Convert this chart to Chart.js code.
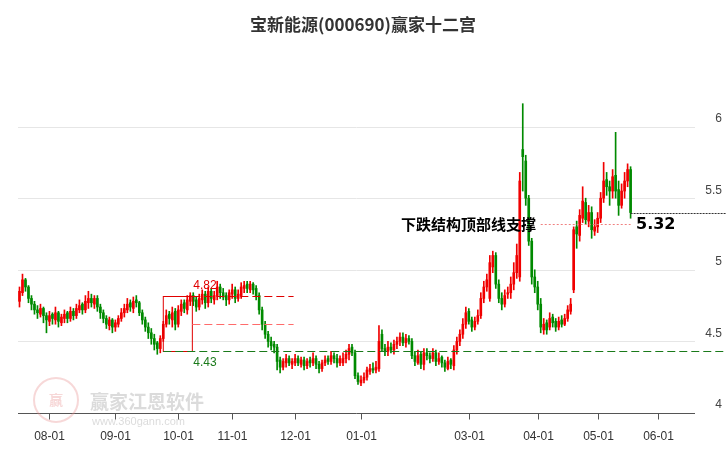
<!DOCTYPE html>
<html><head><meta charset="utf-8">
<script src="https://cdn.jsdelivr.net/npm/chart.js@4/dist/chart.umd.min.js"></script>
<style>html,body{margin:0;padding:0;background:#fff}#w{width:726px;height:450px}</style>
</head><body><div id="w"><canvas id="c"></canvas></div>
<script>
const dateTicks=[10,32,53,71,92,114,150,173,193,213];
const dateLabels=["08-01","09-01","10-01","11-01","12-01","01-01","03-01","04-01","05-01","06-01"];
const yTicks=[4,4.5,5,5.5,6];
const yTickLabels=["4","4.5","5","5.5","6"];
const closes=[4.85,4.93,4.88,4.80,4.76,4.72,4.70,4.73,4.68,4.65,
4.68,4.66,4.70,4.64,4.67,4.69,4.66,4.71,4.68,4.73,4.75,4.72,4.78,4.80,
4.77,4.80,4.74,4.70,4.66,4.62,4.65,4.60,4.63,4.66,
4.70,4.73,4.76,4.74,4.78,4.77,
4.70,4.65,4.60,4.56,4.52,4.48,4.45,
4.52,4.62,4.68,4.66,4.70,4.62,4.72,4.76,4.73,4.79,4.82,
4.78,4.74,4.80,4.83,4.77,4.85,4.80,4.82,4.88,4.84,4.81,4.79,4.84,
4.86,4.80,4.83,4.88,4.89,4.87,4.90,4.86,4.82,
4.72,4.62,4.55,4.50,4.47,4.46,
4.36,4.32,4.36,4.38,4.35,
4.36,4.38,4.35,4.37,4.33,4.36,4.35,4.38,4.34,4.31,4.35,4.37,4.36,4.40,4.38,4.35,4.38,
4.38,4.41,4.45,4.42,4.26,4.22,4.23,4.25,4.30,4.31,4.30,4.32,4.50,4.45,4.43,4.46,4.44,4.48,4.50,4.53,4.49,4.52,4.50,4.40,4.36,4.40,4.34,4.42,4.40,4.38,4.42,4.36,
4.38,4.35,4.32,4.36,4.34,4.44,4.50,4.55,4.62,4.70,4.64,4.60,4.64,4.68,4.80,4.88,4.93,5.05,5.10,4.90,4.80,4.76,4.82,4.84,4.90,4.98,5.10,5.62,5.79,5.50,5.20,4.95,4.88,4.76,4.60,
4.62,4.58,4.66,4.63,4.60,4.64,4.62,4.66,4.72,
4.76,
5.28,5.25,5.38,5.48,5.35,5.40,5.28,5.30,5.36,5.50,5.62,5.58,5.55,5.65,5.55,5.45,5.55,5.62,5.70,5.40];
const opens=[4.78,4.84,4.93,4.88,4.80,4.76,4.72,4.69,4.73,4.68,
4.64,4.69,4.65,4.70,4.63,4.66,4.70,4.66,4.71,4.68,4.72,4.76,4.72,4.77,
4.80,4.76,4.80,4.74,4.70,4.66,4.61,4.65,4.60,4.62,
4.66,4.70,4.72,4.77,4.73,4.79,
4.77,4.70,4.65,4.60,4.56,4.52,4.49,
4.45,4.52,4.62,4.69,4.65,4.71,4.62,4.71,4.77,4.72,4.78,
4.82,4.79,4.74,4.79,4.83,4.77,4.85,4.79,4.82,4.88,4.84,4.82,4.79,
4.83,4.86,4.80,4.82,4.87,4.90,4.86,4.90,4.87,
4.82,4.72,4.62,4.55,4.50,4.48,
4.46,4.37,4.32,4.35,4.38,
4.34,4.35,4.38,4.34,4.37,4.33,4.37,4.35,4.38,4.34,4.31,4.35,4.38,4.36,4.40,4.38,4.35,
4.35,4.38,4.41,4.46,4.42,4.26,4.21,4.23,4.25,4.29,4.31,4.30,4.31,4.55,4.45,4.43,4.46,4.44,4.48,4.50,4.53,4.49,4.52,4.50,4.40,4.35,4.41,4.34,4.42,4.40,4.38,4.42,
4.36,4.39,4.35,4.31,4.37,4.33,4.44,4.50,4.55,4.62,4.71,4.65,4.60,4.64,4.68,4.80,4.88,4.80,5.02,5.10,4.90,4.80,4.76,4.83,4.84,4.90,4.98,4.95,5.84,5.76,5.50,5.20,4.95,4.88,4.76,
4.58,4.63,4.60,4.67,4.64,4.60,4.65,4.62,4.66,
4.71,
4.86,5.30,5.24,5.36,5.47,5.34,5.40,5.27,5.30,5.36,5.50,5.63,5.58,5.55,5.66,5.56,5.45,5.55,5.62,5.70];
const highs=[4.88,4.97,4.94,4.89,4.82,4.78,4.75,4.76,4.74,4.70,
4.71,4.70,4.74,4.71,4.69,4.72,4.71,4.74,4.73,4.76,4.79,4.77,4.82,4.85,
4.83,4.82,4.82,4.76,4.72,4.68,4.67,4.66,4.65,4.68,
4.73,4.76,4.80,4.79,4.81,4.82,
4.78,4.72,4.67,4.63,4.59,4.55,4.50,
4.54,4.64,4.72,4.71,4.74,4.73,4.75,4.79,4.79,4.82,4.84,
4.84,4.81,4.83,4.86,4.85,4.88,4.87,4.85,4.92,4.90,4.87,4.84,4.86,
4.90,4.88,4.86,4.91,4.92,4.92,4.92,4.91,4.89,
4.84,4.74,4.64,4.57,4.53,4.50,
4.48,4.39,4.38,4.41,4.40,
4.38,4.41,4.40,4.39,4.39,4.38,4.39,4.42,4.40,4.36,4.37,4.40,4.40,4.43,4.42,4.41,4.40,
4.42,4.44,4.48,4.48,4.44,4.28,4.26,4.28,4.32,4.34,4.35,4.36,4.61,4.58,4.48,4.50,4.49,4.51,4.53,4.56,4.56,4.55,4.54,4.52,4.43,4.44,4.43,4.45,4.45,4.42,4.45,4.44,
4.42,4.40,4.37,4.39,4.38,4.47,4.53,4.58,4.66,4.74,4.73,4.67,4.67,4.72,4.84,4.92,4.97,5.10,5.13,5.12,4.93,4.84,4.86,4.88,4.95,5.05,5.18,5.68,6.16,5.80,5.52,5.22,5.00,4.92,4.80,
4.66,4.65,4.70,4.69,4.66,4.67,4.68,4.69,4.75,
4.80,
5.30,5.34,5.42,5.58,5.50,5.45,5.44,5.35,5.40,5.54,5.75,5.68,5.62,5.70,5.96,5.62,5.60,5.68,5.74,5.72];
const lows=[4.74,4.82,4.85,4.77,4.72,4.69,4.66,4.67,4.63,4.56,
4.61,4.62,4.62,4.60,4.61,4.63,4.63,4.64,4.65,4.66,4.70,4.69,4.70,4.73,
4.74,4.73,4.71,4.66,4.63,4.59,4.58,4.56,4.57,4.60,
4.64,4.67,4.70,4.71,4.70,4.74,
4.68,4.62,4.57,4.52,4.48,4.44,4.41,
4.42,4.50,4.60,4.62,4.60,4.58,4.60,4.68,4.70,4.69,4.75,
4.75,4.71,4.72,4.76,4.73,4.74,4.77,4.76,4.79,4.80,4.79,4.75,4.76,
4.80,4.77,4.78,4.80,4.84,4.84,4.84,4.83,4.79,
4.69,4.58,4.52,4.46,4.44,4.42,
4.30,4.28,4.30,4.32,4.33,
4.31,4.33,4.33,4.32,4.30,4.31,4.32,4.33,4.31,4.28,4.29,4.33,4.34,4.34,4.35,4.32,4.33,
4.33,4.35,4.37,4.40,4.24,4.20,4.19,4.21,4.23,4.27,4.28,4.28,4.29,4.43,4.40,4.40,4.42,4.41,4.45,4.47,4.47,4.46,4.48,4.38,4.33,4.34,4.31,4.30,4.37,4.35,4.36,4.33,
4.34,4.32,4.29,4.30,4.31,4.30,4.41,4.47,4.52,4.59,4.62,4.57,4.58,4.62,4.66,4.77,4.85,4.78,4.98,4.87,4.77,4.72,4.74,4.80,4.80,4.86,4.94,4.92,5.55,5.45,5.17,4.90,4.84,4.72,4.56,
4.55,4.55,4.58,4.60,4.57,4.58,4.60,4.61,4.64,
4.69,
4.84,5.15,5.20,5.33,5.32,5.30,5.22,5.24,5.26,5.33,5.47,5.52,5.45,5.50,5.50,5.38,5.43,5.50,5.58,5.36];
const boxHigh=4.82, boxLow=4.43, supportLevel=5.32, lastLevel=5.40;

const RED='#f00000', GREEN='#008a00';
const n=closes.length;
const col=[];for(let i=0;i<n;i++)col.push(closes[i]>=opens[i]?RED:GREEN);
const wick=[],body=[];
for(let i=0;i<n;i++){wick.push({x:i,y:[lows[i],highs[i]]});body.push({x:i,y:[Math.min(opens[i],closes[i]),Math.max(opens[i],closes[i])]});}

const deco={id:'deco',
beforeDatasetsDraw(ch){const {ctx,chartArea:a,scales:{x,y}}=ch;ctx.save();
 ctx.strokeStyle='#e6e6e6';ctx.lineWidth=1;
 yTicks.forEach(v=>{const py=Math.round(y.getPixelForValue(v))+0.5;ctx.beginPath();ctx.moveTo(a.left,py);ctx.lineTo(a.right,py);ctx.stroke();});
 ctx.restore();},
afterDatasetsDraw(ch){const {ctx,chartArea:a,scales:{x,y}}=ch;ctx.save();
 const by=Math.round(y.getPixelForValue(4))+0.5;
 ctx.strokeStyle='#555';ctx.beginPath();ctx.moveTo(a.left,by);ctx.lineTo(a.right,by);ctx.stroke();
 ctx.font='12px "Liberation Sans",Arial,sans-serif';ctx.fillStyle='#333';ctx.textAlign='center';ctx.textBaseline='middle';
 dateTicks.forEach((t,i)=>{const px=Math.round(x.getPixelForValue(t))+0.5;ctx.beginPath();ctx.moveTo(px,by);ctx.lineTo(px,by+6);ctx.stroke();ctx.fillText(dateLabels[i],px,by+23);});
 ctx.textAlign='right';ctx.fillStyle='#444';
 yTicks.forEach((v,i)=>{ctx.fillText(yTickLabels[i],722,y.getPixelForValue(v)-8);});
 // box
 const x0=x.getPixelForValue(48),x1=x.getPixelForValue(57.7),x2=x.getPixelForValue(91.5);
 const yh=Math.round(y.getPixelForValue(boxHigh))+0.5,yl=Math.round(y.getPixelForValue(boxLow))+0.5,ym=Math.round(y.getPixelForValue((boxHigh+boxLow)/2))+0.5;
 ctx.strokeStyle='#e00000';ctx.lineWidth=1;ctx.strokeRect(x0,yh,x1-x0,yl-yh);
 ctx.setLineDash([8,4]);ctx.beginPath();ctx.moveTo(x1,yh);ctx.lineTo(x2,yh);ctx.stroke();
 ctx.strokeStyle='#ff6b6b';ctx.beginPath();ctx.moveTo(x1,ym);ctx.lineTo(x2,ym);ctx.stroke();
 ctx.strokeStyle='#1a7a1a';ctx.beginPath();ctx.moveTo(x0,yl);ctx.lineTo(726,yl);ctx.stroke();
 ctx.setLineDash([]);
 ctx.textAlign='left';ctx.font='12px "Liberation Sans",Arial,sans-serif';
 ctx.fillStyle='#e00000';ctx.fillText(boxHigh.toFixed(2),x1+1,yh-11);
 ctx.fillStyle='#1a7a1a';ctx.fillText(boxLow.toFixed(2),x1+1,yl+11);
 // support
 const sy=Math.round(y.getPixelForValue(supportLevel))+0.5;
 ctx.strokeStyle='#f08080';ctx.setLineDash([2,2]);ctx.beginPath();ctx.moveTo(x.getPixelForValue(174),sy);ctx.lineTo(x.getPixelForValue(204),sy);ctx.stroke();
 const ly=Math.round(y.getPixelForValue(lastLevel))+0.5;
 ctx.strokeStyle='#333';ctx.setLineDash([2,1]);ctx.beginPath();ctx.moveTo(x.getPixelForValue(204),ly);ctx.lineTo(726,ly);ctx.stroke();ctx.setLineDash([]);
 ctx.fillStyle='#000';ctx.font='bold 15px "Noto Sans CJK SC",sans-serif';ctx.textAlign='right';ctx.fillText('下跌结构顶部线支撑',536,sy);
 ctx.textAlign='left';ctx.font='bold 16px "DejaVu Sans",sans-serif';ctx.fillText(supportLevel.toFixed(2),636,sy);
 // watermark
 ctx.globalAlpha=0.35;ctx.strokeStyle='#e89090';ctx.lineWidth=2;ctx.beginPath();ctx.arc(56,400,22,0,Math.PI*2);ctx.stroke();
 ctx.fillStyle='#e89090';ctx.font='bold 14px "Noto Sans CJK SC",sans-serif';ctx.textAlign='center';ctx.fillText('赢',56,400);
 ctx.fillStyle='#999';ctx.textAlign='left';ctx.font='bold 19px "Noto Sans CJK SC",sans-serif';ctx.fillText('赢家江恩软件',90,402);
 ctx.font='11px "Liberation Sans",Arial,sans-serif';ctx.fillText('www.360gann.com',92,422);
 ctx.globalAlpha=1;
 ctx.fillStyle='#333';ctx.font='bold 17px "Noto Sans CJK SC",sans-serif';ctx.textAlign='center';ctx.fillText('宝新能源(000690)赢家十二宫',363,25);
 ctx.restore();}};

new Chart(document.getElementById('c'),{type:'bar',
data:{datasets:[
 {data:body,backgroundColor:col,borderWidth:0,barThickness:2,minBarLength:1,grouped:false,order:1},
 {data:wick,backgroundColor:col,borderWidth:0,barThickness:1,grouped:false,order:2}]},
options:{responsive:true,maintainAspectRatio:false,animation:false,
 layout:{padding:{left:18,right:31,top:55,bottom:37}},
 plugins:{legend:{display:false},tooltip:{enabled:false}},
 scales:{x:{type:'linear',min:-0.5,max:225.5,display:false,offset:false},
  y:{min:4,max:6.5,display:false}}},
plugins:[deco]});
</script></body></html>
